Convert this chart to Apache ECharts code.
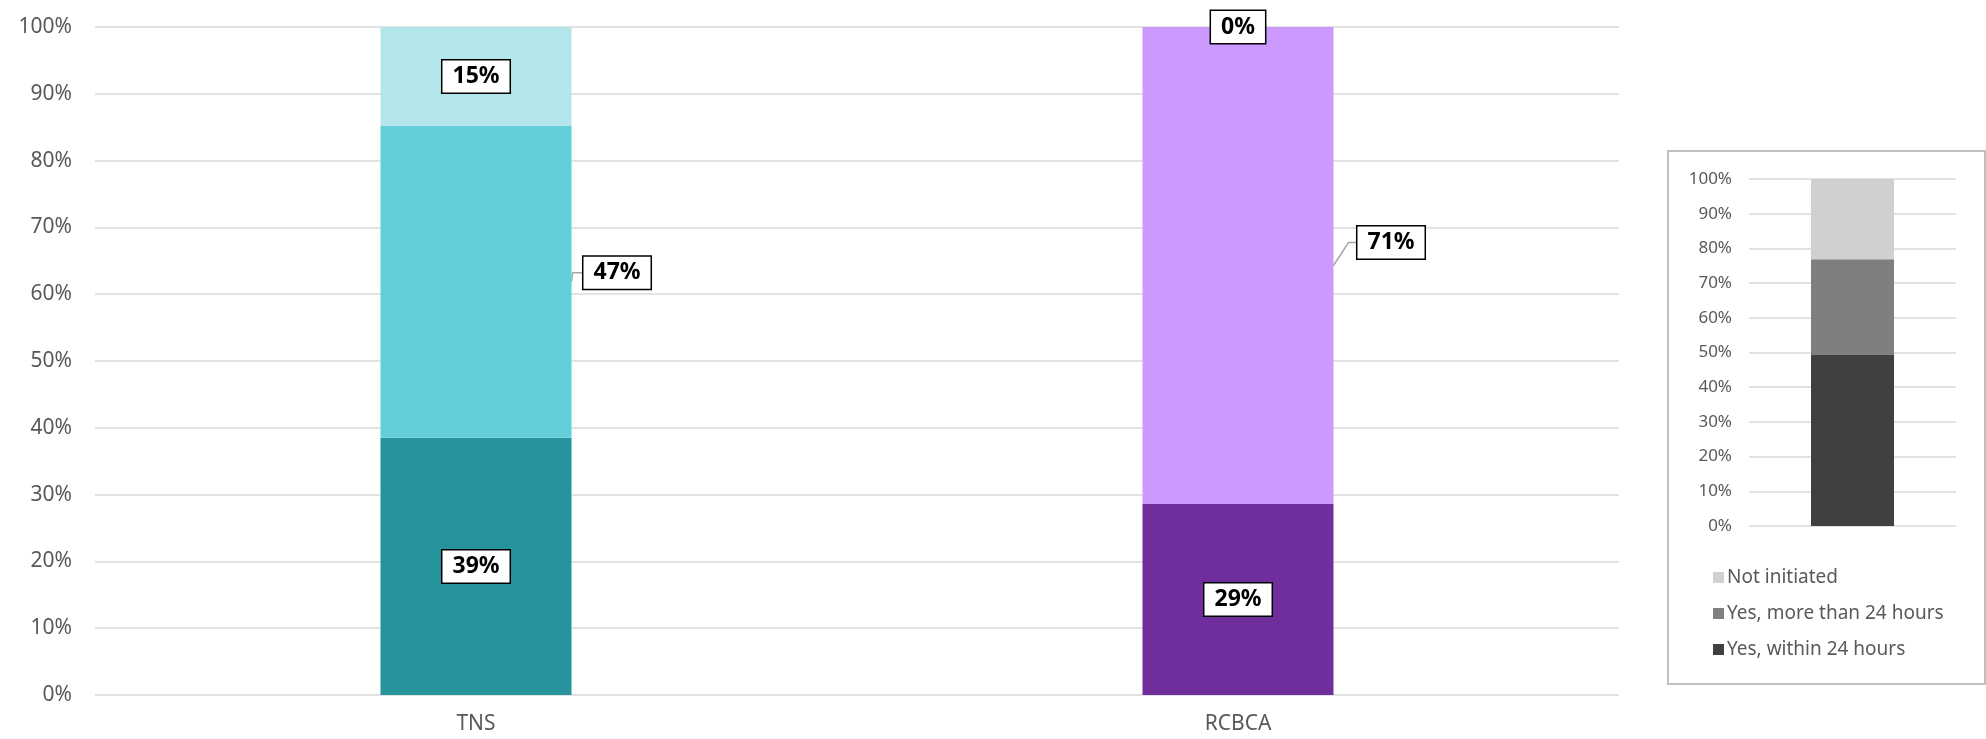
<!DOCTYPE html>
<html>
<head>
<meta charset="utf-8">
<script src="https://cdn.jsdelivr.net/npm/echarts@6/dist/echarts.min.js"></script>
<style>
html,body{margin:0;padding:0;background:#fff;}
#chart{width:1986px;height:739px;}
</style>
</head>
<body>
<div id="chart"></div>
<script>
// ---- data ----
const categories = ['TNS', 'RCBCA'];
const within24 = [38.5, 28.6];
const more24 = [46.7, 71.4];
const notInitiated = [14.8, 0];
const seriesNames = ['Yes, within 24 hours', 'Yes, more than 24 hours', 'Not initiated'];
const overallValues = [49.3, 27.6, 23.1];

// ---- styles ----
const catColors = [
  ['#27939C', '#63CFD8', '#B3E6EA'],
  ['#6F2E9C', '#CC99FF', '#E6CCFF']
];
const overallColors = ['#404040', '#7F7F7F', '#D0D0CE'];
const FONT = 'Noto Sans';
const gridColor = '#D9D9D9';
const txtColor = '#595959';
const BAR_W = 191;
// offsets of the moved labels for the middle stack (per category)
const midOffsets = [{ dx: 141, dy: -9, elbow: 1 }, { dx: 153, dy: -23, elbow: 15 }];

const labelBox = {
  show: true,
  position: 'inside',
  formatter: p => Math.round(p.value) + '%',
  fontFamily: FONT,
  fontWeight: 'bold',
  fontSize: 23,
  color: '#000',
  backgroundColor: '#fff',
  borderColor: '#000',
  borderWidth: 1.5,
  padding: [6, 10, 3, 10]
};

const stacks = [within24, more24, notInitiated];
const mainSeries = stacks.map((arr, s) => ({
  name: 'main' + s,
  type: 'bar',
  stack: 'main',
  xAxisIndex: 0,
  yAxisIndex: 0,
  barWidth: BAR_W,
  label: labelBox,
  labelLayout: s === 1 ? function (p) { return { dx: midOffsets[p.dataIndex].dx, dy: midOffsets[p.dataIndex].dy }; } : undefined,
  data: arr.map((v, i) => ({ value: v, itemStyle: { color: catColors[i][s] } }))
}));

const miniSeries = overallValues.map((v, s) => ({
  name: seriesNames[s],
  type: 'bar',
  stack: 'overall',
  xAxisIndex: 1,
  yAxisIndex: 1,
  barWidth: 83,
  itemStyle: { color: overallColors[s] },
  data: [v]
}));

const chart = echarts.init(document.getElementById('chart'));
chart.setOption({
  animation: false,
  backgroundColor: '#fff',
  grid: [
    { left: 95, right: 367, top: 27, bottom: 44 },
    { left: 1749, width: 207, top: 179, height: 347 }
  ],
  xAxis: [
    {
      type: 'category', gridIndex: 0, data: categories,
      axisLine: { show: false }, axisTick: { show: false },
      axisLabel: { color: txtColor, fontFamily: FONT, fontSize: 21, margin: 19 }
    },
    {
      type: 'category', gridIndex: 1, data: [''],
      axisLine: { show: false }, axisTick: { show: false }, axisLabel: { show: false }
    }
  ],
  yAxis: [
    {
      type: 'value', gridIndex: 0, min: 0, max: 100, interval: 10,
      axisLine: { show: false }, axisTick: { show: false },
      splitLine: { lineStyle: { color: gridColor, width: 1.5 } },
      axisLabel: { color: txtColor, fontFamily: FONT, fontSize: 21, margin: 23, formatter: v => v + '%' }
    },
    {
      type: 'value', gridIndex: 1, min: 0, max: 100, interval: 10,
      axisLine: { show: false }, axisTick: { show: false },
      splitLine: { lineStyle: { color: gridColor, width: 1.5 } },
      axisLabel: { color: txtColor, fontFamily: FONT, fontSize: 17, margin: 17, formatter: v => v + '%' }
    }
  ],
  legend: {
    orient: 'vertical',
    left: 1708,
    top: 563,
    itemWidth: 11,
    itemHeight: 11,
    itemGap: 17,
    icon: 'rect',
    data: ['Not initiated', 'Yes, more than 24 hours', 'Yes, within 24 hours'],
    textStyle: { color: txtColor, fontFamily: FONT, fontSize: 19, padding: [0, 0, 0, -2] }
  },
  graphic: [
    {
      type: 'rect', left: 1667, top: 150, z: -1,
      shape: { width: 317, height: 533 },
      style: { fill: '#fff', stroke: '#BFBFBF', lineWidth: 2 }
    }
  ],
  series: mainSeries.concat(miniSeries)
});

// leader lines for the moved labels, positioned through the axis scales
const leaders = categories.map((c, i) => {
  const mid = within24[i] + more24[i] / 2;
  const p = chart.convertToPixel({ gridIndex: 0 }, [c, mid]);
  const sx = p[0] + BAR_W / 2;
  const sy = p[1];
  const o = midOffsets[i];
  const ly = sy + o.dy;
  const lx = p[0] + o.dx - 34;
  return {
    type: 'polyline', z: 1,
    shape: { points: [[sx, sy], [sx + o.elbow, ly], [lx, ly]] },
    style: { stroke: '#A6A6A6', lineWidth: 1.5, fill: null }
  };
});
chart.setOption({
  graphic: [
    {
      type: 'rect', left: 1667, top: 150, z: -1,
      shape: { width: 317, height: 533 },
      style: { fill: '#fff', stroke: '#BFBFBF', lineWidth: 2 }
    }
  ].concat(leaders)
});
</script>
</body>
</html>
